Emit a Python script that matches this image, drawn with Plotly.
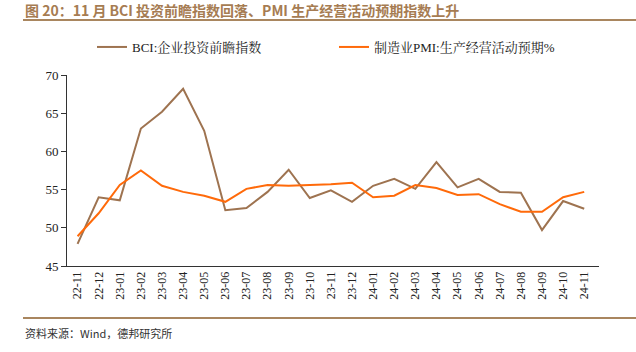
import plotly.graph_objects as go

months = ["22-11","22-12","23-01","23-02","23-03","23-04","23-05","23-06","23-07","23-08",
          "23-09","23-10","23-11","23-12","24-01","24-02","24-03","24-04","24-05","24-06",
          "24-07","24-08","24-09","24-10","24-11"]
bci = [47.9, 54.0, 53.6, 63.0, 65.2, 68.2, 62.7, 52.3, 52.6, 54.7,
       57.6, 53.9, 54.9, 53.4, 55.5, 56.4, 55.1, 58.6, 55.3, 56.4,
       54.7, 54.6, 49.7, 53.5, 52.5]
pmi = [48.9, 51.9, 55.6, 57.5, 55.5, 54.7, 54.2, 53.4, 55.1, 55.6,
       55.5, 55.6, 55.7, 55.9, 54.0, 54.2, 55.6, 55.2, 54.3, 54.4,
       53.1, 52.1, 52.1, 54.0, 54.7]

name_bci = "BCI:企业投资前瞻指数"
name_pmi = "制造业PMI:生产经营活动预期%"
title = "图 20：11 月 BCI 投资前瞻指数回落、PMI 生产经营活动预期指数上升"
source = "资料来源：Wind，德邦研究所"

BROWN = "#9E7350"
ORANGE = "#FF6A0A"
TITLE_C = "#A67C52"

serif = "Liberation Serif, Noto Serif CJK SC, Noto Sans CJK SC, serif"

W, H = 636, 352
L, R, T, B = 67, 37, 75, 86
pw, ph = W - L - R, H - T - B

def px(x):
    return (x - L) / pw

def py(y):
    return (H - B - y) / ph

fig = go.Figure()
fig.add_trace(go.Scatter(x=months, y=bci, mode="lines", name=name_bci,
                         line=dict(color=BROWN, width=2), legend="legend"))
fig.add_trace(go.Scatter(x=months, y=pmi, mode="lines", name=name_pmi,
                         line=dict(color=ORANGE, width=2), legend="legend2"))

leg_common = dict(orientation="h", yanchor="middle", xanchor="left",
                  font=dict(family=serif, size=13, color="#222"),
                  itemwidth=30, bgcolor="rgba(0,0,0,0)")

fig.update_layout(
    width=W, height=H,
    margin=dict(l=L, r=R, t=T, b=B),
    paper_bgcolor="white", plot_bgcolor="white",
    showlegend=True,
    legend=dict(x=px(92), y=py(47), **leg_common),
    legend2=dict(x=px(334), y=py(47), **leg_common),
    xaxis=dict(type="category", range=[-0.5, 24.7], showgrid=False,
               showline=True, linecolor="#333", linewidth=1, ticks="",
               tickangle=-90, tickfont=dict(family=serif, size=12, color="#222")),
    yaxis=dict(range=[45, 70], dtick=5, showgrid=False, zeroline=False,
               showline=True, linecolor="#333", linewidth=1, ticks="outside",
               ticklen=5, tickcolor="#333",
               tickfont=dict(family=serif, size=13, color="#222")),
)

fig.add_annotation(text="<b>" + title + "</b>", xref="paper", yref="paper",
                   x=px(23), y=py(10), xanchor="left", yanchor="middle", showarrow=False,
                   font=dict(family="Noto Sans CJK SC, sans-serif", size=14, color=TITLE_C))
fig.add_annotation(text=source, xref="paper", yref="paper",
                   x=px(23), y=py(333), xanchor="left", yanchor="middle", showarrow=False,
                   font=dict(family="Noto Sans CJK SC, sans-serif", size=11, color="#333"))

fig.add_shape(type="line", xref="paper", yref="paper", x0=px(23), x1=px(636),
              y0=py(20), y1=py(20), line=dict(color="#A9865F", width=2))
fig.add_shape(type="line", xref="paper", yref="paper", x0=px(23), x1=px(636),
              y0=py(318), y1=py(318), line=dict(color="#A9865F", width=2))

fig.write_html("out.html")
